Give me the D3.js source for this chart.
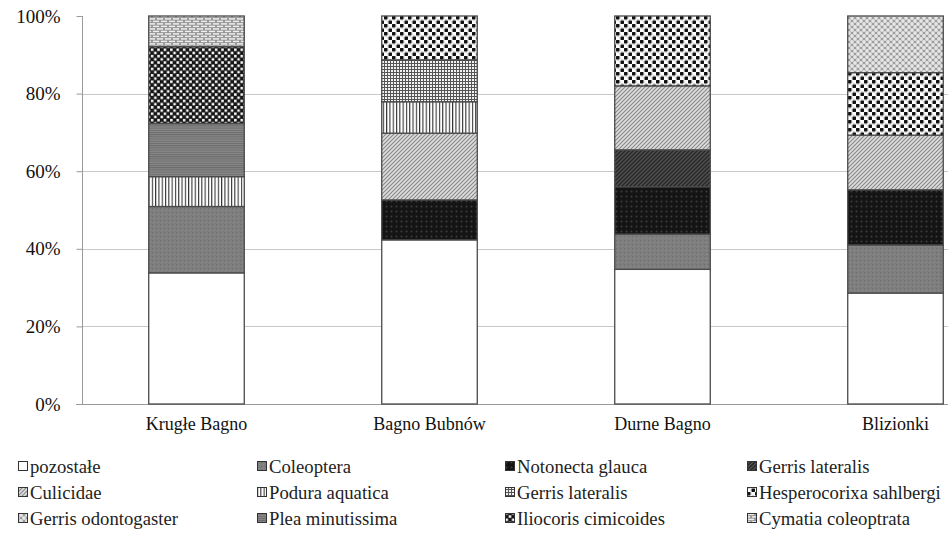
<!DOCTYPE html>
<html>
<head>
<meta charset="utf-8">
<script src="https://d3js.org/d3.v7.min.js"></script>
<style>
  body { margin: 0; background: #fff; }
  svg text { font-family: "Liberation Serif", "DejaVu Serif", serif; }
  .tick-label { font-size: 19px; fill: #111; }
  .cat-label { font-size: 18px; fill: #111; }
  .legend text { font-size: 18.7px; fill: #222; }
  .grid-line { stroke: #c8c8c8; stroke-width: 1px; }
  .axis-line { stroke: #9a9a9a; stroke-width: 1.2px; }
  .seg { stroke: #4a4a4a; stroke-width: 1.3px; }
</style>
</head>
<body>
<script>
var categories = ["Krugłe Bagno", "Bagno Bubnów", "Durne Bagno", "Blizionki"];

var seriesNames = ["pozostałe", "Coleoptera", "Notonecta glauca", "Gerris lateralis",
  "Culicidae", "Podura aquatica", "Gerris lateralis", "Hesperocorixa sahlbergi",
  "Gerris odontogaster", "Plea minutissima", "Iliocoris cimicoides", "Cymatia coleoptrata"];

// share (%) of each series per category, in the order of seriesNames
var krugleBagno  = [33.8, 17.1, 0, 0, 0, 7.7, 0, 0, 0, 13.7, 19.8, 7.9];
var bagnoBubnow  = [42.3, 0, 10.3, 0, 17.2, 8.1, 10.8, 11.3, 0, 0, 0, 0];
var durneBagno   = [34.7, 9.1, 12.2, 9.5, 16.5, 0, 0, 18.0, 0, 0, 0, 0];
var blizionki    = [28.6, 12.4, 14.2, 0, 14.1, 0, 0, 16.1, 14.6, 0, 0, 0];

var yTicks = [0, 20, 40, 60, 80, 100];

var values = [krugleBagno, bagnoBubnow, durneBagno, blizionki];

var width = 948, height = 541;

var svg = d3.select("body").append("svg")
  .attr("width", width)
  .attr("height", height);

var defs = svg.append("defs");

// ---- fill patterns, one per series ----
function pat(id, w, h, bg) {
  var p = defs.append("pattern")
    .attr("id", id)
    .attr("patternUnits", "userSpaceOnUse")
    .attr("width", w).attr("height", h);
  p.append("rect").attr("width", w).attr("height", h).attr("fill", bg);
  return p;
}

// 0 pozostałe
pat("p0", 4, 4, "#ffffff");
// 1 Coleoptera
var p1 = pat("p1", 4, 4, "#7e7e7e");
p1.append("rect").attr("x", 0).attr("y", 0).attr("width", 1).attr("height", 1).attr("fill", "#6c6c6c");
p1.append("rect").attr("x", 2).attr("y", 2).attr("width", 1).attr("height", 1).attr("fill", "#8e8e8e");
// 2 Notonecta glauca
var p2 = pat("p2", 5, 5, "#141414");
p2.append("circle").attr("cx", 1.5).attr("cy", 1.5).attr("r", 1).attr("fill", "#3c3c3c");
// 3 Gerris lateralis (dark diagonal)
var p3 = pat("p3", 4, 4, "#505050");
p3.append("path").attr("d", "M-1,1 L1,-1 M0,4 L4,0 M3,5 L5,3").attr("stroke", "#262626").attr("stroke-width", 1.4);
// 4 Culicidae (light diagonal)
var p4 = pat("p4", 4, 4, "#dedede");
p4.append("path").attr("d", "M-1,1 L1,-1 M0,4 L4,0 M3,5 L5,3").attr("stroke", "#8a8a8a").attr("stroke-width", 1.2);
// 5 Podura aquatica (vertical lines)
var p5 = pat("p5", 3.3, 4, "#ffffff");
p5.append("rect").attr("x", 0).attr("y", 0).attr("width", 1.1).attr("height", 4).attr("fill", "#333");
// 6 Gerris lateralis (grid)
var p6 = pat("p6", 3, 3, "#f2f2f2");
p6.append("path").attr("d", "M0,0.5 H3 M0.5,0 V3").attr("stroke", "#555").attr("stroke-width", 1);
// 7 Hesperocorixa sahlbergi (large dots)
var p7 = pat("p7", 8, 8, "#ffffff");
p7.append("circle").attr("cx", 2).attr("cy", 2).attr("r", 2.4).attr("fill", "#111");
p7.append("circle").attr("cx", 6).attr("cy", 6).attr("r", 2.4).attr("fill", "#111");
p7.append("rect").attr("x", 0).attr("y", 3.5).attr("width", 8).attr("height", 1).attr("fill", "#fff");
p7.append("rect").attr("x", 3.5).attr("y", 0).attr("width", 1).attr("height", 8).attr("fill", "#fff");
// 8 Gerris odontogaster (light checker)
var p8 = pat("p8", 6, 6, "#9c9c9c");
[[0, 0], [6, 0], [0, 6], [6, 6], [3, 3]].forEach(function(c) {
  p8.append("circle").attr("cx", c[0]).attr("cy", c[1]).attr("r", 1.9).attr("fill", "#e6e6e6");
});
// 9 Plea minutissima (horizontal lines)
var p9 = pat("p9", 4, 2.2, "#8a8a8a");
p9.append("rect").attr("x", 0).attr("y", 0).attr("width", 4).attr("height", 1).attr("fill", "#6a6a6a");
// 10 Iliocoris cimicoides (small checker)
var p10 = pat("p10", 6.4, 6.4, "#151515");
p10.append("rect").attr("x", 0.5).attr("y", 0.5).attr("width", 2.5).attr("height", 2.5).attr("fill", "#fff");
p10.append("rect").attr("x", 3.7).attr("y", 3.7).attr("width", 2.5).attr("height", 2.5).attr("fill", "#fff");
// 11 Cymatia coleoptrata (brick)
var p11 = pat("p11", 8, 5, "#8c8c8c");
p11.append("rect").attr("x", 0.8).attr("y", 0.6).attr("width", 6.4).attr("height", 1.6).attr("fill", "#ececec");
p11.append("rect").attr("x", -3.2).attr("y", 3.1).attr("width", 6.4).attr("height", 1.6).attr("fill", "#ececec");
p11.append("rect").attr("x", 4.8).attr("y", 3.1).attr("width", 6.4).attr("height", 1.6).attr("fill", "#ececec");

// ---- scales ----
var x = d3.scaleBand()
  .domain(categories)
  .range([80, 1012])
  .paddingInner(0.59)
  .paddingOuter(0.295);

var y = d3.scaleLinear()
  .domain([0, 100])
  .range([404, 16]);

// grid lines
svg.append("g").selectAll("line")
  .data(yTicks.filter(function(d) { return d > 0 && d < 100; }))
  .enter().append("line")
  .attr("class", "grid-line")
  .attr("x1", 82).attr("x2", width)
  .attr("y1", function(d) { return Math.round(y(d)) + 0.5; })
  .attr("y2", function(d) { return Math.round(y(d)) + 0.5; });

// y axis
var yAxis = d3.axisLeft(y)
  .tickValues(yTicks)
  .tickSize(6)
  .tickPadding(16)
  .tickFormat(function(d) { return d + "%"; });

var yg = svg.append("g")
  .attr("transform", "translate(82.5,0)")
  .call(yAxis)
  .attr("font-family", "Liberation Serif")
  .attr("font-size", 19);
yg.select(".domain").attr("stroke", "#9a9a9a").attr("d", "M0," + y(100) + "V" + y(0));
yg.selectAll(".tick line").attr("stroke", "#9a9a9a");
yg.selectAll(".tick text")
  .attr("class", "tick-label")
  .attr("fill", "#111");

// x axis baseline
svg.append("line")
  .attr("class", "axis-line")
  .attr("x1", 76).attr("x2", width)
  .attr("y1", Math.round(y(0)) + 0.5).attr("y2", Math.round(y(0)) + 0.5);

// ---- stacked bars ----
var rows = categories.map(function(c, i) {
  var r = { cat: c };
  seriesNames.forEach(function(s, j) { r["s" + j] = values[i][j]; });
  return r;
});

var stack = d3.stack().keys(seriesNames.map(function(s, j) { return "s" + j; }));
var layers = stack(rows);

svg.append("g").selectAll("g")
  .data(layers)
  .enter().append("g")
  .attr("fill", function(d, j) { return "url(#p" + j + ")"; })
  .selectAll("rect")
  .data(function(d) { return d.filter(function(v) { return v[1] - v[0] > 0; }); })
  .enter().append("rect")
  .attr("class", "seg")
  .attr("x", function(d) { return x(d.data.cat); })
  .attr("width", x.bandwidth())
  .attr("y", function(d) { return y(d[1]); })
  .attr("height", function(d) { return y(d[0]) - y(d[1]); });

// category labels
svg.append("g").selectAll("text")
  .data(categories)
  .enter().append("text")
  .attr("class", "cat-label")
  .attr("x", function(d) { return x(d) + x.bandwidth() / 2; })
  .attr("y", 430)
  .attr("text-anchor", "middle")
  .text(function(d) { return d; });

// ---- legend ----
var legendCols = [18, 257, 505, 747];
var legendRows = [466, 492, 518];

var legend = svg.append("g").attr("class", "legend");
var items = legend.selectAll("g")
  .data(seriesNames)
  .enter().append("g")
  .attr("transform", function(d, i) {
    return "translate(" + legendCols[i % 4] + "," + legendRows[Math.floor(i / 4)] + ")";
  });

items.append("rect")
  .attr("x", 0.5).attr("y", -4.5)
  .attr("width", 9).attr("height", 9)
  .attr("fill", function(d, i) { return "url(#p" + i + ")"; })
  .attr("stroke", "#333")
  .attr("stroke-width", 1);

items.append("text")
  .attr("x", 12)
  .attr("y", 0)
  .attr("dy", "0.35em")
  .text(function(d) { return d; });
</script>
</body>
</html>
